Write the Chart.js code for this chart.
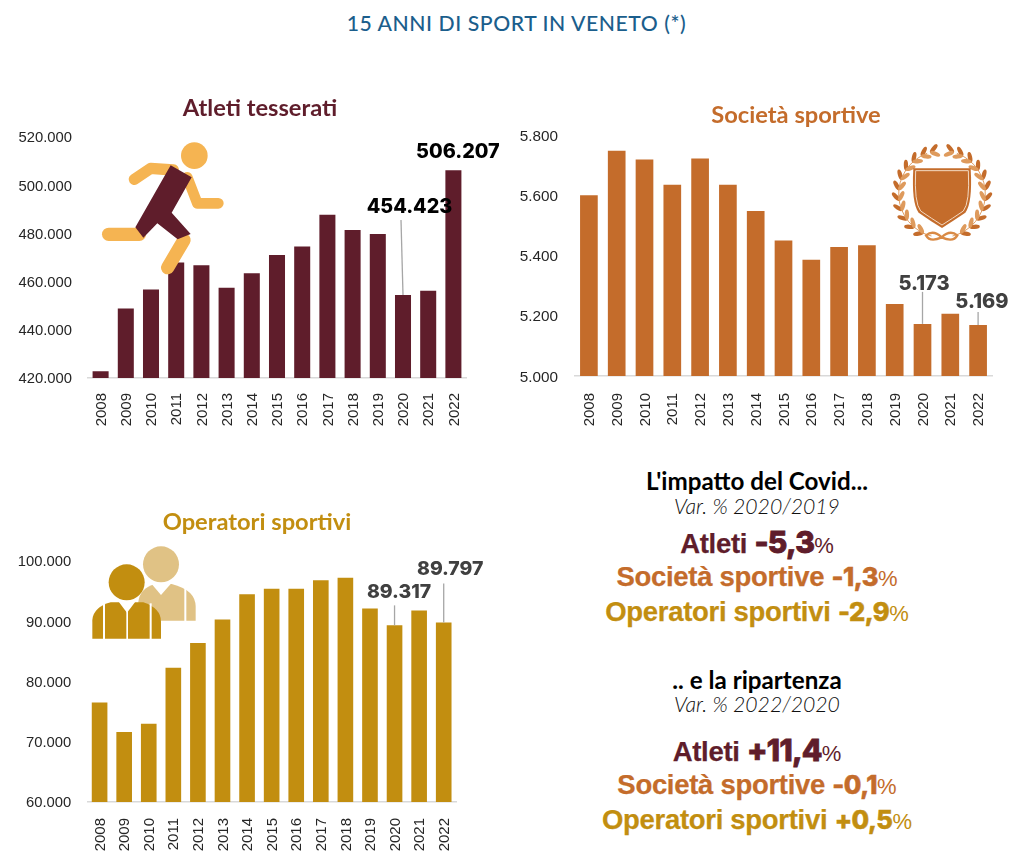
<!DOCTYPE html>
<html lang="it">
<head>
<meta charset="utf-8">
<title>15 anni di sport in Veneto</title>
<script src="https://cdn.jsdelivr.net/npm/chart.js@4"></script>
<style>
html,body{margin:0;padding:0;background:#fff;width:1024px;height:866px;overflow:hidden}
body{position:relative}
canvas{position:absolute;display:block}
svg{position:absolute;overflow:visible;pointer-events:none}
.t{position:absolute;white-space:nowrap;transform:translate(-50%,-50%);left:757px;line-height:1}
#main{left:516.5px;top:23px;font:500 21.2px Lato,sans-serif;color:#1b5e8c;letter-spacing:.55px}
.h{font:700 24.2px Lato,sans-serif;color:#000}
.s{font:italic 300 21.2px Lato,sans-serif;color:#111}
.r{font:700 27.5px "Liberation Sans",sans-serif;letter-spacing:-.3px;-webkit-text-stroke:.25px currentColor}
.r b{font:800 25.5px Inter,sans-serif;letter-spacing:-.5px;-webkit-text-stroke:.5px currentColor}
.r.a b{font-size:30px;letter-spacing:-.7px;-webkit-text-stroke:.9px currentColor}
.r i{font:400 22px "Liberation Sans",sans-serif;letter-spacing:0;-webkit-text-stroke:0}
.a{color:#5f1d2b}.b{color:#c46c2b}.c{color:#c28e10}
</style>
</head>
<body>
<div class="t" id="main">15 ANNI DI SPORT IN VENETO (*)</div>
<canvas id="c1" width="520" height="348" style="left:0;top:90px"></canvas>
<canvas id="c2" width="514" height="346" style="left:510px;top:90px"></canvas>
<canvas id="c3" width="514" height="362" style="left:0;top:500px"></canvas>

<svg id="runner" style="left:80px;top:90px" width="420" height="340" viewBox="0 0 1260 1020">
  <g fill="none" stroke="#f5b452" stroke-linecap="round" stroke-linejoin="round">
    <polyline points="163,268 212,235 280,240" stroke-width="34"/>
    <polyline points="322,262 352,340 415,340" stroke-width="32"/>
    <polyline points="86,433 178,433" stroke-width="40"/>
    <polyline points="312,450 263,533" stroke-width="40"/>
  </g>
  <circle cx="343" cy="197" r="40" fill="#f5b452"/>
  <polygon fill="#5f1d2b" points="272,226 335,262 275,368 332,432 293,448 232,400 190,443 166,412"/>
</svg>

<svg id="crest" style="left:560px;top:90px" width="440" height="340" viewBox="0 0 1320 1020">
  <g id="leaves"></g>
  <path d="M1060,235 L1232,235 Q1238,340 1216,368 Q1180,392 1146,414 Q1110,392 1076,368 Q1054,340 1060,235 Z" fill="#c46c2b"/>
  <path d="M1067,242 L1225,242 Q1230,338 1210,363 Q1178,385 1146,405 Q1114,385 1082,363 Q1062,338 1067,242 Z" fill="none" stroke="#f3d9c2" stroke-width="3"/>
  <g fill="none" stroke="#d98a45" stroke-width="7">
    <path d="M1145,442 Q1120,418 1098,436 Q1110,458 1145,442 Q1180,458 1192,436 Q1170,418 1145,442 Z"/>
  </g>
</svg>

<svg id="people" style="left:80px;top:510px" width="420" height="350" viewBox="0 0 1260 1050">
  <path d="M175,332 L175,275 Q180,235 225,222 L275,222 Q347,240 347,290 L347,332 Z" fill="#e0c285"/>
  <rect x="313" y="225" width="6" height="108" fill="#fff"/>
  <circle cx="243" cy="163" r="54" fill="#e0c285"/>
  <path d="M215,222 L243,255 L272,222 Z" fill="#fff"/>
  <path d="M37,386 L37,330 Q40,292 92,277 L190,277 Q243,295 243,335 L243,386 Z" fill="#c28e10"/>
  <g fill="#fff"><rect x="69" y="280" width="6" height="107"/><rect x="139" y="300" width="5" height="87"/><rect x="209" y="280" width="6" height="107"/></g>
  <path d="M112,270 L141,308 L170,270 Z" fill="#fff"/>
  <circle cx="140" cy="217" r="54" fill="#c28e10"/>
</svg>

<div class="t h" style="top:480px">L'impatto del Covid...</div>
<div class="t s" style="top:506px">Var. % 2020/2019</div>
<div class="t r a" style="top:541.5px">Atleti <b>-5,3</b><i>%</i></div>
<div class="t r b" style="top:577px">Società sportive <b>-1,3</b><i>%</i></div>
<div class="t r c" style="top:612px">Operatori sportivi <b>-2,9</b><i>%</i></div>
<div class="t h" style="top:679px">.. e la ripartenza</div>
<div class="t s" style="top:704px">Var. % 2022/2020</div>
<div class="t r a" style="top:749.5px">Atleti <b>+11,4</b><i>%</i></div>
<div class="t r b" style="top:785px">Società sportive <b>-0,1</b><i>%</i></div>
<div class="t r c" style="top:820px">Operatori sportivi <b>+0,5</b><i>%</i></div>

<script>
const years = ['2008','2009','2010','2011','2012','2013','2014','2015','2016','2017','2018','2019','2020','2021','2022'];
const atleti = [422800,448800,456700,467900,466800,457400,463500,471000,474600,487700,481400,479700,454423,456200,506207];
const societa = [5600,5748,5719,5635,5722,5635,5548,5450,5386,5428,5434,5239,5173,5207,5169];
const operatori = [76500,71600,73000,82300,86400,90300,94500,95400,95400,96800,97200,92100,89317,91800,89797];

const fmt = v => String(v).replace(/\B(?=(\d{3})+(?!\d))/g, '.');

const nudge = {
  id: 'nudge',
  beforeDraw(chart, args, opts) {
    chart.titleBlock.left = opts.titleX - 150;
    chart.titleBlock.right = opts.titleX + 150;
    chart.scales.y.getLabelItems().forEach(it => { it.options.translation[1] += 1.3; });
    chart.scales.x.getLabelItems().forEach(it => { it.options.translation[0] += 1; });
  }
};

const callouts = {
  id: 'callouts',
  afterDatasetsDraw(chart, args, opts) {
    const ctx = chart.ctx, x = chart.scales.x, y = chart.scales.y;
    ctx.save();
    (opts.items || []).forEach(c => {
      const v = chart.data.datasets[0].data[c.i];
      const bx = x.getPixelForValue(c.i), by = y.getPixelForValue(v);
      if (c.lead) {
        ctx.strokeStyle = '#a6a6a6'; ctx.lineWidth = 1.3;
        ctx.beginPath(); ctx.moveTo(bx, by);
        ctx.lineTo(bx + (c.leadDx || 0), by - c.lead); ctx.stroke();
      }
      ctx.font = '800 ' + opts.size + 'px Inter, sans-serif';
      ctx.fillStyle = opts.color; ctx.textAlign = 'center'; ctx.textBaseline = 'middle';
      ctx.fillText(fmt(v), bx + c.dx, by - c.dy);
    });
    ctx.restore();
  }
};

function make(id, cfg) {
  new Chart(document.getElementById(id), {
    type: 'bar',
    plugins: [nudge, callouts],
    data: { labels: years, datasets: [{ data: cfg.values, backgroundColor: cfg.color, barPercentage: .636, categoryPercentage: 1 }] },
    options: {
      responsive: false, animation: false,
      layout: { autoPadding: false, padding: { top: cfg.padTop, right: cfg.padRight, left: 0, bottom: 0 } },
      plugins: {
        legend: { display: false }, tooltip: { enabled: false },
        title: { display: true, text: cfg.title, color: cfg.color, font: { family: 'Lato', size: 23.7, weight: '700', lineHeight: 1 }, padding: { top: 0, bottom: cfg.titleGap } },
        nudge: { titleX: cfg.titleX },
        callouts: { items: cfg.callouts, size: cfg.labelSize, color: cfg.labelColor }
      },
      scales: {
        x: {
          afterFit: s => { s.height = cfg.xHeight; },
          grid: { display: false, drawTicks: false },
          border: { display: true, color: '#d9d9d9', width: 1.5 },
          ticks: { minRotation: 90, maxRotation: 90, autoSkip: false, padding: cfg.xPad, color: '#262626', font: { family: 'Liberation Sans', size: 15 } }
        },
        y: {
          min: cfg.min, max: cfg.max,
          afterFit: s => { s.width = cfg.yWidth; },
          grid: { display: false, drawTicks: false },
          border: { display: false },
          ticks: { stepSize: cfg.step, padding: cfg.yPad, color: '#262626', font: { family: 'Liberation Sans', size: cfg.ySize }, callback: v => fmt(v) }
        }
      }
    }
  });
}

make('c1', { values: atleti, color: '#5f1d2b', title: 'Atleti tesserati', min: 420000, max: 520000, step: 20000, titleX: 260,
  padTop: 7, titleGap: 16.3, padRight: 54, yWidth: 88, xHeight: 60, xPad: 15, yPad: 16, ySize: 14.8, labelSize: 19.8, labelColor: '#000',
  callouts: [{ i: 12, dx: 6.5, dy: 88, lead: 75, leadDx: -2 }, { i: 14, dx: 4.5, dy: 18.5 }] });
make('c2', { values: societa, color: '#c46c2b', title: 'Società sportive', min: 5000, max: 5800, step: 200, titleX: 286,
  padTop: 14, titleGap: 7.3, padRight: 32, yWidth: 65, xHeight: 60, xPad: 17, yPad: 17, ySize: 15.3, labelSize: 20, labelColor: '#404040',
  callouts: [{ i: 12, dx: 1.5, dy: 40, lead: 32 }, { i: 14, dx: 3.8, dy: 23.5, lead: 13 }] });
make('c3', { values: operatori, color: '#c28e10', title: 'Operatori sportivi', min: 60000, max: 100000, step: 10000, titleX: 257,
  padTop: 11, titleGap: 26.3, padRight: 58, yWidth: 87.3, xHeight: 60, xPad: 16, yPad: 16, ySize: 14.8, labelSize: 19.4, labelColor: '#404040',
  callouts: [{ i: 12, dx: 4.5, dy: 33, lead: 20 }, { i: 14, dx: 6.5, dy: 53.5, lead: 39 }] });

// laurel decoration round the shield
const g = document.getElementById('leaves');
const NS = 'http://www.w3.org/2000/svg';
const CX = 1146, CY = 312, R = 130;
[-1, 1].forEach(side => {
  const stem = document.createElementNS(NS, 'path');
  const pt = d => { const a = d * Math.PI / 180; return [CX + side * R * Math.sin(a), CY + R * Math.cos(a)]; };
  const p0 = pt(14), p1 = pt(160);
  stem.setAttribute('d', `M${p0} A${R},${R} 0 0 ${side > 0 ? 0 : 1} ${p1}`);
  stem.setAttribute('fill', 'none'); stem.setAttribute('stroke', '#d98a45'); stem.setAttribute('stroke-width', 2.5);
  g.appendChild(stem);
  [26,40,54,68,82,96,110,124,138,152,165].forEach(deg => {
    const a = deg * Math.PI / 180;
    const [px, py] = pt(deg);
    const tan = Math.atan2(-Math.sin(a), side * Math.cos(a));
    [[-.62, '#c46c2b'], [.62, '#de9a5c']].forEach(([off, col]) => {
      const th = tan + off * side * -1;
      const e = document.createElementNS(NS, 'ellipse');
      const ex = px + 14 * Math.cos(th), ey = py + 14 * Math.sin(th);
      e.setAttribute('cx', ex); e.setAttribute('cy', ey);
      e.setAttribute('rx', 16); e.setAttribute('ry', 6.5);
      e.setAttribute('fill', col);
      e.setAttribute('transform', `rotate(${th * 180 / Math.PI} ${ex} ${ey})`);
      g.appendChild(e);
    });
  });
});
</script>
</body>
</html>
